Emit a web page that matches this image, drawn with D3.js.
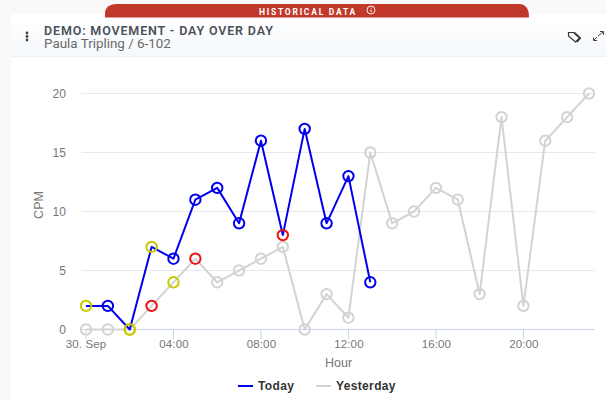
<!DOCTYPE html>
<html><head><meta charset="utf-8">
<script src="https://cdn.jsdelivr.net/npm/d3@7"></script>
<style>
html,body{margin:0;padding:0;background:#fff}
svg{display:block}
text{font-family:"Liberation Sans",sans-serif}
</style></head><body>
<svg id="c" width="606" height="400"></svg>
<script>
const hours = d3.range(0,24);
const todayValues = [2,2,0,7,6,11,12,9,16,8,17,9,13,4];
const yesterdayValues = [0,0,0,2,4,6,4,5,6,7,0,3,1,15,9,10,12,11,3,18,2,16,18,20];
const Y='#c9c900',R='#ee1111',B='#0000ee',G='#d3d3d3';
const todayMarkers = {0:Y,2:Y,3:Y,9:R};
const yesterdayMarkers = {2:Y,3:R,4:Y,5:R};
const yTicks=[0,5,10,15,20];
const xTicks=[0,4,8,12,16,20];
const xLabels=['30. Sep','04:00','08:00','12:00','16:00','20:00'];
const svg=d3.select('#c');
// page and card
svg.append('rect').attr('width',606).attr('height',400).attr('fill','#f9f9f9');
svg.append('rect').attr('x',11).attr('y',14).attr('width',600).attr('height',391).attr('rx',3).attr('fill','#ffffff');
const defs=svg.append('defs');
const g=defs.append('linearGradient').attr('id','hd').attr('x1',0).attr('x2',0).attr('y1',0).attr('y2',1);
g.append('stop').attr('offset',0).attr('stop-color','#ffffff');
g.append('stop').attr('offset',1).attr('stop-color','#f5f8fc');
svg.append('rect').attr('x',11).attr('y',17).attr('width',595).attr('height',39).attr('fill','url(#hd)');
svg.append('line').attr('x1',11).attr('x2',606).attr('y1',56.5).attr('y2',56.5).attr('stroke','#eef0f3');
// banner
svg.append('path').attr('d','M105 17.5V14Q105 4 117 4H519Q529 4 529 17.5Z').attr('fill','#c0392b');
svg.append('text').attr('x',308).attr('y',14.5).attr('text-anchor','middle').attr('fill','#fff').attr('font-size',8.5).attr('font-weight',700).attr('letter-spacing',1.75).style('font-family','Roboto').text('HISTORICAL DATA');
svg.append('circle').attr('cx',371).attr('cy',10).attr('r',4).attr('fill','none').attr('stroke','#fff').attr('stroke-width',0.9);
svg.append('line').attr('x1',371).attr('x2',371).attr('y1',9.5).attr('y2',12.3).attr('stroke','#fff');
svg.append('circle').attr('cx',371).attr('cy',8).attr('r',0.6).attr('fill','#fff');
// header
[33,36.5,40].forEach(y=>svg.append('circle').attr('cx',27).attr('cy',y).attr('r',1.4).attr('fill','#444'));
svg.append('text').attr('x',44).attr('y',34.5).attr('fill','#4a5057').attr('font-size',12.5).attr('font-weight',600).attr('letter-spacing',0.85).style('font-family','Roboto').text('DEMO: MOVEMENT - DAY OVER DAY');
svg.append('text').attr('x',44).attr('y',47.5).attr('fill','#6a6a6a').attr('font-size',13.4).style('font-family','Roboto').text('Paula Tripling / 6-102');
// header icons
svg.append('path').attr('d','M568.5 32.5h5l6 5.5-4 4-7-6z M574.5 32.5l6 5.5-3.5 4').attr('fill','none').attr('stroke','#333').attr('stroke-width',1.2);
svg.append('path').attr('d','M598 36l5-4M600 31.5h3.5v3.5M597 37l-3 3M593.5 37.5v3h3.5').attr('fill','none').attr('stroke','#444').attr('stroke-width',1);
// chart
const x=d3.scaleLinear().domain([0,23]).range([86,589]);
const y=d3.scaleLinear().domain([0,20]).range([329.5,93.5]);
const plotL=81.5,plotR=595;
const axisG=svg.append('g');
yTicks.forEach(t=>{
  axisG.append('line').attr('x1',plotL).attr('x2',plotR).attr('y1',y(t)).attr('y2',y(t))
    .attr('stroke',t===0?'#ccd6eb':'#e6e8ee').attr('stroke-width',1);
  axisG.append('text').attr('x',66).attr('y',y(t)+4.5).attr('text-anchor','end').attr('fill','#777').attr('font-size',12).attr('letter-spacing',0.1).text(t);
});
xTicks.forEach((t,i)=>{
  axisG.append('line').attr('x1',x(t)).attr('x2',x(t)).attr('y1',329.5).attr('y2',339).attr('stroke','#ccd6eb');
  axisG.append('text').attr('x',x(t)+(i?0.5:0)).attr('y',348).attr('text-anchor','middle').attr('fill','#777').attr('font-size',11.5).attr('letter-spacing',0.15).text(xLabels[i]);
});
svg.append('text').attr('transform','translate(43,205) rotate(-90)').attr('text-anchor','middle').attr('fill','#777').attr('font-size',12.5).text('CPM');
svg.append('text').attr('x',338.5).attr('y',367).attr('text-anchor','middle').attr('fill','#777').attr('font-size',12.5).text('Hour');
const line=d3.line().x((d,i)=>x(hours[i])).y(d=>y(d));
function series(vals,col,markers){
  const s=svg.append('g');
  s.append('path').attr('d',line(vals)).attr('fill','none').attr('stroke',col).attr('stroke-width',2).attr('stroke-linejoin','round');
  s.selectAll('circle').data(vals).join('circle')
    .attr('cx',(d,i)=>x(hours[i])).attr('cy',d=>y(d)).attr('r',5.2)
    .attr('fill','none').attr('stroke',(d,i)=>markers[i]||col).attr('stroke-width',2);
}
series(yesterdayValues,G,yesterdayMarkers);
series(todayValues,B,todayMarkers);
// legend
svg.append('line').attr('x1',238).attr('x2',253).attr('y1',386).attr('y2',386).attr('stroke',B).attr('stroke-width',2);
svg.append('text').attr('x',258).attr('y',390).attr('fill','#333').attr('font-size',12).attr('font-weight',700).attr('letter-spacing',0.35).text('Today');
svg.append('line').attr('x1',316).attr('x2',331).attr('y1',386).attr('y2',386).attr('stroke',G).attr('stroke-width',2);
svg.append('text').attr('x',336).attr('y',390).attr('fill','#333').attr('font-size',12).attr('font-weight',700).attr('letter-spacing',0.35).text('Yesterday');
</script>
</body></html>
